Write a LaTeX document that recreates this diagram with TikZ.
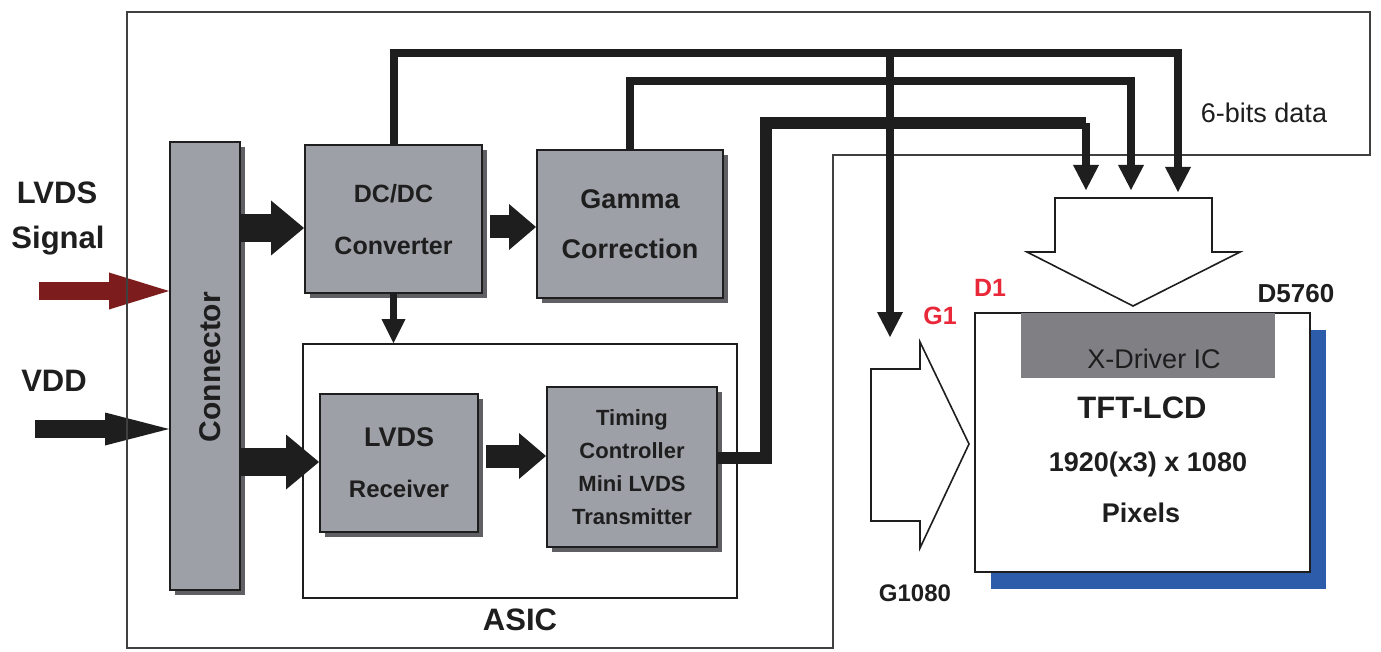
\documentclass[tikz,border=0pt]{standalone}
\usepackage{fontspec}
\setmainfont{Liberation Sans}
\usetikzlibrary{arrows.meta,shadows}
\definecolor{boxgray}{RGB}{158,160,168}
\definecolor{shadegray}{RGB}{95,95,100}
\definecolor{icgray}{RGB}{128,128,132}
\definecolor{lcdblue}{RGB}{45,92,170}
\definecolor{sigred}{RGB}{125,28,28}
\definecolor{pinred}{RGB}{232,40,56}
\definecolor{ink}{RGB}{30,30,30}
\newcommand{\fs}[2]{\fontsize{#1}{#2}\selectfont}

\begin{document}
\begin{tikzpicture}[x=1pt,y=-1pt,
  blk/.style={draw=ink,line width=2pt,fill=boxgray,inner sep=0pt,text depth=0pt,align=center,text=ink,
    general shadow={fill=shadegray,shadow xshift=5pt,shadow yshift=-5pt}},
  txt/.style={inner sep=0pt,text depth=0pt,text=ink},
  frame/.style={draw=ink!85,line width=1.3pt},
  bus/.style={draw=ink,line width=8pt},
  bustip/.style={-{Triangle[width=26pt,length=25pt,line width=0pt]}},
  fat/.style={draw=ink,line width=28pt,-{Triangle[width=55pt,length=33pt,line width=0pt]}},
  fatsm/.style={draw=ink,line width=23pt,-{Triangle[width=46pt,length=27pt,line width=0pt]}},
  hollow/.style={draw=ink,line width=1.6pt,fill=white,line join=miter}]
\fill[white] (0,0) rectangle (1381,652);
\useasboundingbox (0,0) rectangle (1381,652);

% blocks
\node[blk,minimum width=70pt,minimum height=448pt] (conn) at (205,366) {};
\node[txt,rotate=90,font=\bfseries\fs{30}{30}] (connlbl) at (210,367) {Connector};
\node[blk,minimum width=177pt,minimum height=148pt,font=\bfseries\fs{25}{52}] (dc) at (393.5,219) {DC/DC\\Converter};
\node[blk,minimum width=186pt,minimum height=148pt,font=\bfseries\fs{27}{50}] (gm) at (630,224) {Gamma\\Correction};
\node[draw=ink,line width=1.8pt,minimum width=434pt,minimum height=254pt] (asic) at (520,471) {};
\node[txt,font=\bfseries\fs{31}{31}] (asiclbl) at (520,620) {ASIC};
\node[blk,minimum width=158pt,minimum height=138pt,font=\bfseries\fs{24}{51}] (rx) at (399,463) {{\fs{27}{51}LVDS}\\Receiver};
\node[blk,minimum width=170pt,minimum height=160pt,font=\bfseries\fs{22}{33}] (tc) at (632,467) {Timing\\Controller\\Mini LVDS\\Transmitter};

% inputs
\node[txt,font=\bfseries\fs{31}{31}] (lvdslbl) at (57,193) {LVDS};
\node[txt,font=\bfseries\fs{31}{31}] (siglbl) at (58,237) {Signal};
\node[txt,font=\bfseries\fs{31}{31}] (vddlbl) at (54,381) {VDD};
\coordinate (sig) at (39,291);
\coordinate (vdd) at (35,429);
\draw[draw=sigred,line width=18pt,-{Triangle[width=37pt,length=60pt,line width=0pt]}] (sig) -- (conn.west |- sig);
\draw[draw=ink,line width=18pt,-{Triangle[width=33pt,length=64pt,line width=0pt]}] (vdd) -- (conn.west |- vdd);

% block arrows
\draw[fat] (conn.east |- 0,228) -- (dc.west |- 0,228);
\draw[fat] (conn.east |- 0,462) -- (rx.west |- 0,462);
\draw[fatsm] (490,227) -- (gm.west |- 0,227);
\draw[fatsm] (486,456) -- (tc.west |- 0,456);
\draw[draw=ink,line width=7pt,-{Triangle[width=24pt,length=24pt,line width=0pt]}] (dc.south) -- (dc.south |- asic.north);

% outer frame
\draw[frame] (127,12) -- (1370,12) -- (1370,155) -- (833,155) -- (833,648) -- (127,648) -- cycle;
\node[txt,font=\fs{27}{27}] (bitslbl) at (1264,113) {6-bits data};

% data buses
\draw[bus,bustip] (dc.north) -- (dc.north |- 0,53) -- (1178,53) -- (1178,192);
\draw[bus,bustip] (890,53) -- (890,337);
\draw[bus,bustip] (gm.north) -- (gm.north |- 0,81) -- (1131,81) -- (1131,190);
\draw[bus,line width=12pt] (tc.east |- 0,458) -- (766,458) -- (766,123) -- (1086,123);
\draw[bus,bustip] (1086,123) -- (1086,190);

% panel
\draw[hollow] (1055,198) -- (1212,198) -- (1212,252) -- (1240,252) -- (1133,306) -- (1027,252) -- (1055,252) -- cycle;
\draw[hollow] (871,369) -- (920,369) -- (920,342) -- (969,444) -- (920,548) -- (920,521) -- (871,521) -- cycle;
\node[draw=ink,line width=2pt,fill=white,minimum width=335pt,minimum height=259pt,
  general shadow={fill=lcdblue,shadow xshift=16pt,shadow yshift=-17pt}] (lcd) at (1142.5,442.5) {};
\node[fill=icgray,inner sep=0pt,minimum width=254pt,minimum height=65pt] (xdrv) at (1148,345.5) {};
\node[txt,font=\fs{27}{27},text=ink!95!black] (xdrvlbl) at (1154,359) {X-Driver IC};
\node[txt,font=\bfseries\fs{31}{31}] (lcdlbl) at (1142,408) {TFT-LCD};
\node[txt,font=\bfseries\fs{27}{27}] (reslbl) at (1148,462) {1920(x3) x 1080};
\node[txt,font=\bfseries\fs{27}{27}] (pixlbl) at (1141,513) {Pixels};
\node[txt,font=\bfseries\fs{25}{25},text=pinred] (d1lbl) at (990,288) {D1};
\node[txt,font=\bfseries\fs{25}{25},text=pinred] (g1lbl) at (940,316) {G1};
\node[txt,font=\bfseries\fs{26}{26}] (dlastlbl) at (1296,293) {D5760};
\node[txt,font=\bfseries\fs{24}{24}] (glastlbl) at (915,593) {G1080};
\end{tikzpicture}
\end{document}
